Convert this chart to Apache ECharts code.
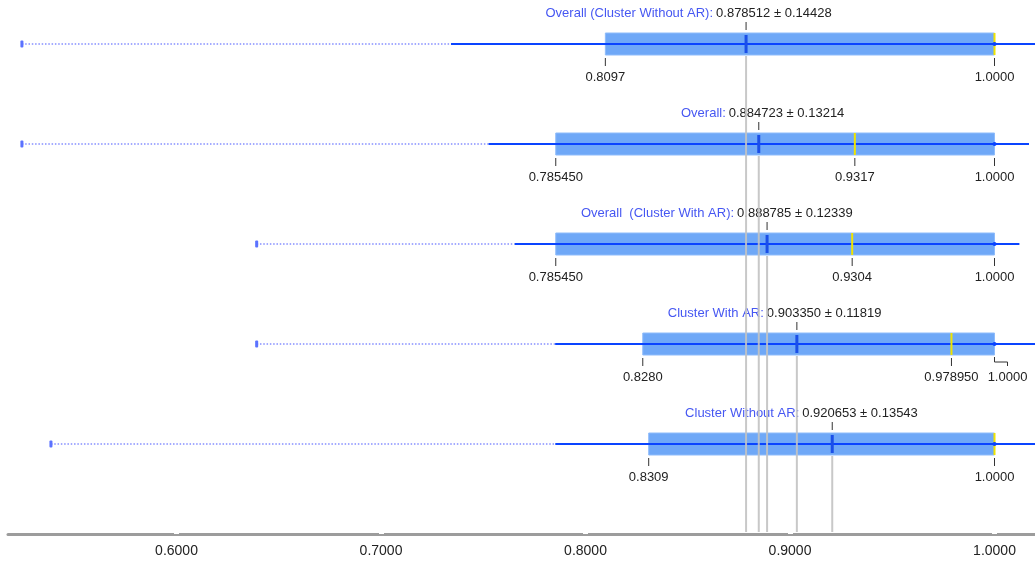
<!DOCTYPE html>
<html>
<head>
<meta charset="utf-8">
<script src="https://cdn.jsdelivr.net/npm/echarts@6/dist/echarts.min.js"></script>
<style>
  html, body { margin: 0; padding: 0; background: #fff; }
  #chart { width: 1035px; height: 566px; }
</style>
</head>
<body>
<div id="chart"></div>
<script>
// 每一行的数据
const rowNames = ['Overall (Cluster Without AR)', 'Overall', 'Overall  (Cluster With AR)', 'Cluster With AR', 'Cluster Without AR'];
const means = [0.878512, 0.884723, 0.888785, 0.903350, 0.920653];
const stds = [0.14428, 0.13214, 0.12339, 0.11819, 0.13543];
const mins = [0.5244, 0.5244, 0.6392, 0.6392, 0.5386];
const boxLow = [0.8097, 0.78545, 0.78545, 0.8280, 0.8309];
const medians = [1.0, 0.9317, 0.9304, 0.97895, 1.0];
const boxHigh = [1.0, 1.0, 1.0, 1.0, 1.0];
const boxLowLabels = ['0.8097', '0.785450', '0.785450', '0.8280', '0.8309'];
const medianLabels = [null, '0.9317', '0.9304', '0.978950', null];
const boxHighLabels = ['1.0000', '1.0000', '1.0000', '1.0000', '1.0000'];

const FAMILY = '"Liberation Sans", Arial, sans-serif';
const FONT = '13px ' + FAMILY;

let chart = echarts.init(document.getElementById('chart'));

let data = rowNames.map(function (name, i) {
    return [i, mins[i], means[i] - stds[i], boxLow[i], medians[i], boxHigh[i], means[i], means[i] + stds[i]];
});

function renderRow(params, api) {
    let i = api.value(0);
    let y = api.coord([means[i], i])[1];
    let xMin = api.coord([api.value(1), i])[0];
    let xLo = api.coord([api.value(2), i])[0];
    let xQ1 = api.coord([api.value(3), i])[0];
    let xMed = api.coord([api.value(4), i])[0];
    let xQ3 = api.coord([api.value(5), i])[0];
    let xMean = api.coord([api.value(6), i])[0];
    let xHi = api.coord([api.value(7), i])[0];
    let yAxis = params.coordSys.y + params.coordSys.height - 2;

    let kids = [];
    // 虚线：最小值到 mean-std
    kids.push({ type: 'line', shape: { x1: xMin, y1: y, x2: xLo, y2: y },
        style: { stroke: '#a3aaff', lineWidth: 2, lineDash: [1.5, 1.8] } });
    kids.push({ type: 'rect', shape: { x: xMin - 1.5, y: y - 3.5, width: 3, height: 7, r: 1 },
        style: { fill: '#5b72ff' } });
    // 箱体
    kids.push({ type: 'rect', shape: { x: xQ1, y: y - 11, width: xQ3 - xQ1, height: 22 },
        style: { fill: '#6fa8f7', stroke: '#8fbcfb', lineWidth: 1 } });
    // mean ± std
    kids.push({ type: 'line', shape: { x1: xLo, y1: y, x2: xHi, y2: y },
        style: { stroke: '#0a44ff', lineWidth: 2 } });
    // 中位数
    kids.push({ type: 'line', shape: { x1: xMed, y1: y - 11, x2: xMed, y2: y + 11 },
        style: { stroke: '#f0e400', lineWidth: 2 } });
    kids.push({ type: 'circle', shape: { cx: xQ3, cy: y, r: 2 }, style: { fill: '#0a44ff' } });
    // 均值标记
    kids.push({ type: 'line', shape: { x1: xMean, y1: y - 9, x2: xMean, y2: y + 9 },
        style: { stroke: '#1b4fe8', lineWidth: 3 } });
    // 上方标题
    kids.push({ type: 'line', shape: { x1: xMean, y1: y - 22, x2: xMean, y2: y - 14 },
        style: { stroke: '#333', lineWidth: 1 } });
    kids.push({ type: 'text', style: { text: rowNames[i] + ':', x: xMean - 33, y: y - 30.5,
        align: 'right', verticalAlign: 'middle', fill: '#4657f2', font: FONT } });
    kids.push({ type: 'text', style: { text: means[i].toFixed(6) + ' \u00b1 ' + stds[i].toFixed(5),
        x: xMean - 30, y: y - 30.5, align: 'left', verticalAlign: 'middle', fill: '#222', font: FONT } });

    // 下方刻度标签
    function tickLabel(x, text, shift) {
        if (shift) {
            kids.push({ type: 'polyline', shape: { points: [[x, y + 13], [x, y + 18], [x + shift, y + 18], [x + shift, y + 22]] },
                style: { stroke: '#333', lineWidth: 1, fill: null } });
        } else {
            kids.push({ type: 'line', shape: { x1: x, y1: y + 14, x2: x, y2: y + 22 },
                style: { stroke: '#333', lineWidth: 1 } });
        }
        kids.push({ type: 'text', style: { text: text, x: x + (shift || 0), y: y + 33,
            align: 'center', verticalAlign: 'middle', fill: '#222', font: FONT } });
    }
    tickLabel(xQ1, boxLowLabels[i]);
    let shift = 0;
    if (medianLabels[i]) {
        tickLabel(xMed, medianLabels[i]);
        if (xQ3 - xMed < 60) shift = 13;
    }
    tickLabel(xQ3, boxHighLabels[i], shift);

    // 均值竖线，画在最上层
    kids.push({ type: 'line', z2: 100, shape: { x1: xMean, y1: y + 12, x2: xMean, y2: yAxis },
        style: { stroke: '#c2c2c2', lineWidth: 2, opacity: 0.9 } });

    return { type: 'group', children: kids };
}

let option = {
    animation: false,
    grid: { left: 8, right: 0, top: 0, bottom: 32 },
    xAxis: {
        type: 'value',
        min: 0.5176,
        max: 1.0198,
        splitNumber: 5,
        splitLine: { show: false },
        axisLine: { show: true, onZero: false, lineStyle: { color: '#9c9c9c', width: 3 } },
        axisTick: { show: true, inside: true, length: 2, lineStyle: { color: '#fff', width: 5 } },
        axisLabel: {
            margin: 10,
            showMinLabel: false,
            showMaxLabel: false,
            color: '#222',
            fontSize: 14,
            fontFamily: FAMILY,
            formatter: function (v) { return v.toFixed(4); }
        }
    },
    yAxis: {
        type: 'value',
        inverse: true,
        min: -0.44,
        max: 4.9,
        show: false
    },
    series: [{
        type: 'custom',
        renderItem: renderRow,
        clip: true,
        encode: { x: [1, 2, 3, 4, 5, 6, 7], y: 0 },
        data: data
    }]
};
chart.setOption(option);
</script>
</body>
</html>
